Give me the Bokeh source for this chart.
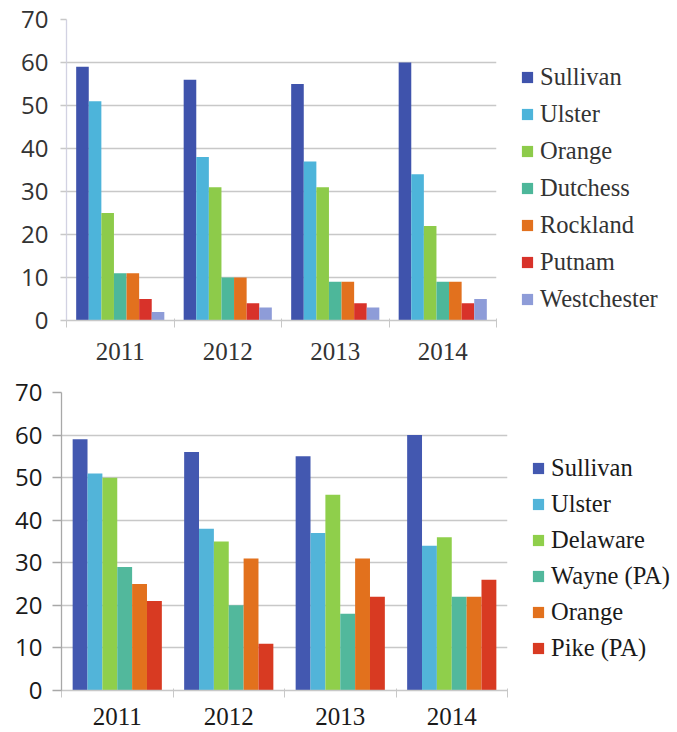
from bokeh.plotting import figure
from bokeh.layouts import column, row
from bokeh.models import (ColumnDataSource, Range1d, FixedTicker, Legend, LegendItem)
from bokeh.embed import file_html
from bokeh.resources import INLINE

years = ["2011", "2012", "2013", "2014"]

# Top chart
top_counties = ["Sullivan", "Ulster", "Orange", "Dutchess", "Rockland", "Putnam", "Westchester"]
top_sullivan = [59, 56, 55, 60]
top_ulster = [51, 38, 37, 34]
top_orange = [25, 31, 31, 22]
top_dutchess = [11, 10, 9, 9]
top_rockland = [11, 10, 9, 9]
top_putnam = [5, 4, 4, 4]
top_westchester = [2, 3, 3, 5]
top_values = [top_sullivan, top_ulster, top_orange, top_dutchess, top_rockland, top_putnam, top_westchester]
top_colors = ["#3F53AC", "#4DB4DA", "#8DCB4A", "#4DB79A", "#E2711E", "#D8322A", "#8E9CD8"]

# Bottom chart
bot_counties = ["Sullivan", "Ulster", "Delaware", "Wayne (PA)", "Orange", "Pike (PA)"]
bot_sullivan = [59, 56, 55, 60]
bot_ulster = [51, 38, 37, 34]
bot_delaware = [50, 35, 46, 36]
bot_wayne = [29, 20, 18, 22]
bot_orange = [25, 31, 31, 22]
bot_pike = [21, 11, 22, 26]
bot_values = [bot_sullivan, bot_ulster, bot_delaware, bot_wayne, bot_orange, bot_pike]
bot_colors = ["#4358B0", "#52B4D9", "#8FCF4B", "#52B89C", "#E2711D", "#D83A22"]

y_ticks = [0, 10, 20, 30, 40, 50, 60, 70]

SANS = "Open Sans"
SERIF = "Liberation Serif"


def make_chart(counties, values, colors, fw, fh, bl, br, bt, bb, group_frac,
               axis_color, grid_color, tick_out, ytick_color, xlab_standoff, ylab_standoff,
               legend_loc, legend_row, text_color):
    p = figure(frame_width=fw, frame_height=fh, output_backend="svg", toolbar_location=None,
               x_range=Range1d(0, len(years)), y_range=Range1d(0, 70),
               min_border_left=bl, min_border_right=br, min_border_top=bt,
               min_border_bottom=bb)
    p.outline_line_color = None
    n = len(counties)
    bw = group_frac / n
    renderers = []
    for i, (name, vals, col) in enumerate(zip(counties, values, colors)):
        off = (i - (n - 1) / 2) * bw
        src = ColumnDataSource(dict(x=[k + 0.5 + off for k in range(len(years))], top=vals))
        r = p.vbar(x="x", top="top", width=bw, bottom=0, source=src,
                   fill_color=col, line_color=None)
        renderers.append(r)

    p.xgrid.visible = False
    p.ygrid.ticker = FixedTicker(ticks=y_ticks)
    p.ygrid.grid_line_color = grid_color
    p.ygrid.grid_line_width = 1.3

    xa = p.xaxis[0]
    xa.ticker = FixedTicker(ticks=[k + 0.5 for k in range(len(years))],
                            minor_ticks=list(range(len(years) + 1)))
    xa.major_label_overrides = {k + 0.5: y for k, y in enumerate(years)}
    xa.major_tick_line_color = None
    xa.minor_tick_line_color = grid_color
    xa.minor_tick_out = 7
    xa.minor_tick_in = 2
    xa.axis_line_color = grid_color
    xa.axis_line_width = 1.3
    xa.major_label_text_font = SERIF
    xa.major_label_text_font_size = "25px"
    xa.major_label_text_color = text_color
    xa.major_label_standoff = xlab_standoff

    ya = p.yaxis[0]
    ya.ticker = FixedTicker(ticks=y_ticks)
    ya.axis_line_color = axis_color
    ya.axis_line_width = 1.3
    ya.major_tick_line_color = ytick_color
    ya.major_tick_line_width = 1.3
    ya.major_tick_out = tick_out
    ya.major_tick_in = 0
    ya.minor_tick_line_color = None
    ya.major_label_text_font = SANS
    ya.major_label_text_font_size = "24px"
    ya.major_label_text_color = text_color
    ya.major_label_standoff = ylab_standoff

    items = [LegendItem(label=nm, renderers=[r]) for nm, r in zip(counties, renderers)]
    leg = Legend(items=items, location=legend_loc, orientation="vertical",
                 glyph_width=14, glyph_height=14, label_height=legend_row, spacing=0,
                 label_standoff=6, padding=0, margin=0,
                 label_text_font=SERIF, label_text_font_size="24.5px",
                 label_text_color=text_color,
                 border_line_color=None, background_fill_alpha=0)
    p.add_layout(leg, "right")
    return p


p1 = make_chart(top_counties, top_values, top_colors, 430, 301, 66, 175, 19, 48, 0.82,
                "#D2D2E2", "#C8C8C8", 6, "#C8C8C8", 15, 12, (24, 3), 37, "#333333")
p2 = make_chart(bot_counties, bot_values, bot_colors, 446, 298, 61, 168, 24, 40, 0.80,
                "#A8A8A8", "#C8C8C8", 9, "#A8A8A8", 10, 10, (24, 24), 36, "#1A1A1A")

layout = column(row(p1), row(p2), spacing=0)
open("out.html", "w").write(file_html(layout, INLINE))
